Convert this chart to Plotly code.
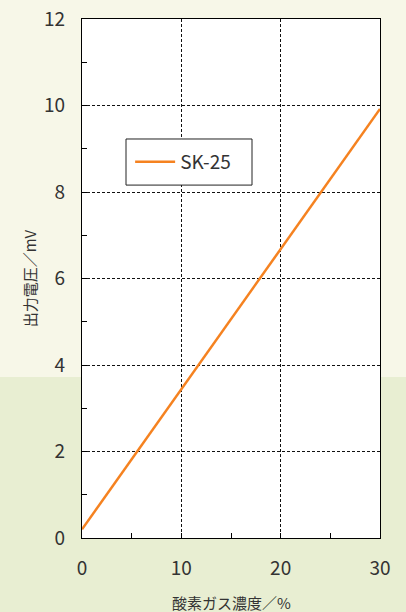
import plotly.graph_objects as go

# Data
oxygen_pct = [0, 30]
output_mv = [0.2, 9.92]
series_name = "SK-25"
x_ticks = [0, 10, 20, 30]
y_ticks = [0, 2, 4, 6, 8, 10, 12]

FONT = "Noto Sans CJK JP, Noto Sans, sans-serif"

fig = go.Figure()
fig.add_trace(go.Scatter(
    x=oxygen_pct, y=output_mv, mode="lines", name=series_name,
    line=dict(color="#f58220", width=2.5),
))

axis_common = dict(
    showline=True, linecolor="black", linewidth=1.2, mirror=True,
    ticks="inside", ticklen=5, tickcolor="black", tickwidth=1,
    showgrid=True, gridcolor="#111", griddash="3px,2px", gridwidth=1,
    zeroline=False, automargin=False,
    tickfont=dict(family=FONT, size=19, color="#333"),
)

fig.update_xaxes(
    range=[0, 30], tickvals=x_ticks, ticklabelstandoff=13,
    minor=dict(dtick=5, ticks="inside", ticklen=5, tickcolor="black", showgrid=False),
    **axis_common,
)
fig.update_yaxes(
    range=[0, 12], tickvals=y_ticks, ticklabelstandoff=12,
    minor=dict(dtick=1, ticks="inside", ticklen=5, tickcolor="black", showgrid=False),
    **axis_common,
)

fig.add_annotation(text="酸素ガス濃度／%", xref="paper", yref="paper",
                   x=0.5, y=-0.1, xanchor="center", yanchor="top", showarrow=False,
                   font=dict(family=FONT, size=15, color="#333"))
fig.add_annotation(text="出力電圧／mV", xref="paper", yref="paper",
                   x=-0.175, y=0.5, xanchor="center", yanchor="middle",
                   textangle=-90, showarrow=False,
                   font=dict(family=FONT, size=15, color="#333"))

# soft background band at bottom, then white plot area on top of it
fig.add_shape(type="rect", xref="paper", yref="paper", x0=-0.3, x1=1.1, y0=-0.16, y1=0.31,
              fillcolor="#e8eed2", line=dict(width=0), layer="below")
fig.add_shape(type="rect", xref="paper", yref="paper", x0=0, x1=1, y0=0, y1=1,
              fillcolor="white", line=dict(width=0), layer="below")
# legend frame
fig.add_shape(type="rect", xref="paper", yref="paper", x0=0.1477, x1=0.5705, y0=0.680, y1=0.7688,
              fillcolor="white", line=dict(color="#222", width=1), layer="above")

fig.update_layout(
    width=406, height=612,
    margin=dict(l=82, r=26, t=19, b=74, autoexpand=False),
    paper_bgcolor="#f7f7e8", plot_bgcolor="white",
    showlegend=True,
    legend=dict(
        x=0.1615, y=0.7245, xanchor="left", yanchor="middle",
        bgcolor="rgba(0,0,0,0)", borderwidth=0,
        font=dict(family=FONT, size=19, color="#333"),
        itemwidth=40, tracegroupgap=0,
    ),
)

fig.write_html("out.html", config={"displayModeBar": False},
               post_script="document.body.style.margin='0';document.body.style.overflow='hidden';")
